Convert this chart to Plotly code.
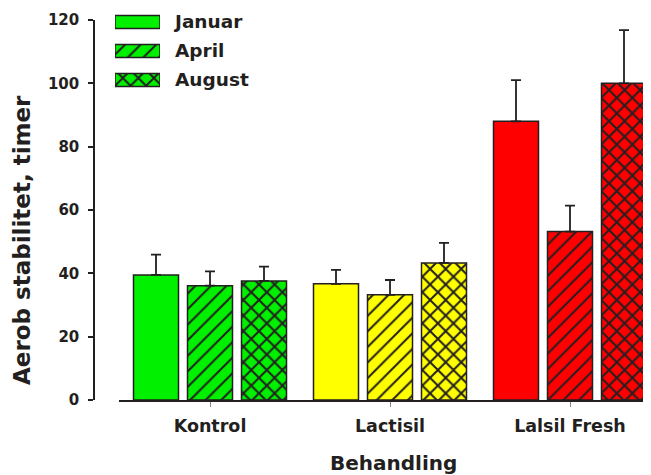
import plotly.graph_objects as go

categories = ["Kontrol", "Lactisil", "Lalsil Fresh"]
series_names = ["Januar", "April", "August"]
januar = [39.5, 36.7, 88.0]
april = [36.1, 33.2, 53.2]
august = [37.6, 43.3, 100.0]
januar_err = [6.4, 4.4, 13.0]
april_err = [4.5, 4.7, 8.2]
august_err = [4.5, 6.3, 16.8]
bar_colors = ["#00f000", "#ffff00", "#ff0000"]
legend_color = "#00f000"
y_ticks = [0, 20, 40, 60, 80, 100, 120]

FONT = "DejaVu Sans"
DARK = "#231f20"

# the page body adds an 8px offset; positions below are given in window pixels
OFF = 8
W, H = 651, 475
ML, MR, MT, MB = 94 - OFF, 0, 0, 475 - (400 - OFF)
PLOT_L, PLOT_R = 94, W + OFF
PLOT_T, PLOT_B = OFF, 400


def px_x(p):
    return (p - PLOT_L) / (PLOT_R - PLOT_L)


def px_y(p):
    return (PLOT_B - p) / (PLOT_B - PLOT_T)


series = [
    (series_names[0], januar, januar_err, "", 0.2),
    (series_names[1], april, april_err, "/", 0.18),
    (series_names[2], august, august_err, "x", 0.33),
]

fig = go.Figure()
# one trace per (series, category) so each bar can carry its own fill colour
# under the hatch pattern; offsetgroup keeps the three series side by side
for name, vals, errs, shape, solid in series:
    for cat, val, err, col in zip(categories, vals, errs, bar_colors):
        fig.add_trace(go.Bar(
            x=[cat], y=[val], name=name, offsetgroup=name,
            marker=dict(
                color=col,
                line=dict(color=DARK, width=1.5),
                pattern=dict(shape=shape, fillmode="replace", bgcolor=col,
                             fgcolor=DARK, fgopacity=1, size=11, solidity=solid),
            ),
            error_y=dict(type="data", symmetric=False, array=[err], arrayminus=[0],
                         color=DARK, thickness=1.8, width=5),
            showlegend=False,
        ))

# legend swatches drawn as horizontal bars on a small overlay axis
for name, vals, errs, shape, solid in series:
    fig.add_trace(go.Bar(
        x=[1], y=[name], orientation="h", xaxis="x2", yaxis="y2",
        offsetgroup="legend", width=0.45, showlegend=False, hoverinfo="skip",
        marker=dict(
            color=legend_color, line=dict(color=DARK, width=1.5),
            pattern=dict(shape=shape, fillmode="replace", bgcolor=legend_color,
                         fgcolor=DARK, fgopacity=1, size=11, solidity=solid),
        ),
    ))

row0, row_step = 22, 29
x_center0, x_step = 210, 180
fig.update_layout(
    width=W, height=H,
    margin=dict(l=ML, r=MR, t=MT, b=MB, autoexpand=False),
    paper_bgcolor="white", plot_bgcolor="rgba(0,0,0,0)",
    barmode="group", bargap=0.1, bargroupgap=1 / 6,
    font=dict(family=FONT, color=DARK, weight="bold"),
    showlegend=False,
    xaxis=dict(
        domain=[px_x(119), 1],
        range=[(119 - x_center0) / x_step, (PLOT_R - x_center0) / x_step],
        showline=True, linecolor=DARK, linewidth=2,
        ticks="outside", ticklen=5, tickcolor="#888", tickwidth=1,
        ticklabelstandoff=4,
        tickfont=dict(size=17.5, family=FONT, color=DARK, weight="bold"),
        showgrid=False, zeroline=False, anchor="y", automargin=False,
    ),
    yaxis=dict(
        domain=[0, px_y(20)],
        range=[0, 120], tickvals=y_ticks,
        showline=True, linecolor=DARK, linewidth=1.5,
        ticks="outside", ticklen=5, tickcolor=DARK, tickwidth=1.5,
        ticklabelstandoff=6,
        tickfont=dict(size=15, family=FONT, color=DARK, weight="bold"),
        showgrid=False, zeroline=False,
        anchor="free", position=0, automargin=False,
    ),
    xaxis2=dict(
        domain=[px_x(115), px_x(160)], range=[0, 1], anchor="y2",
        visible=False, fixedrange=True,
    ),
    yaxis2=dict(
        domain=[px_y(96), 1], anchor="x2", side="right",
        type="category", categoryorder="array", categoryarray=series_names,
        range=[(96 - row0) / row_step, (PLOT_T - row0) / row_step],
        showline=False, showgrid=False, zeroline=False,
        ticks="", ticklabelstandoff=14,
        tickfont=dict(size=18.5, family=FONT, color=DARK, weight="bold"),
        automargin=False, fixedrange=True,
    ),
    annotations=[
        dict(
            text="Aerob stabilitet, timer", textangle=-90,
            xref="paper", yref="paper", x=px_x(22), y=px_y(240),
            xanchor="center", yanchor="middle", showarrow=False,
            font=dict(size=23, family=FONT, color=DARK, weight="bold"),
        ),
        dict(
            text="Behandling",
            xref="paper", yref="paper", x=px_x(393), y=px_y(463),
            xanchor="center", yanchor="middle", showarrow=False,
            font=dict(size=20, family=FONT, color=DARK, weight="bold"),
        ),
    ],
)

fig.write_html("out.html")
